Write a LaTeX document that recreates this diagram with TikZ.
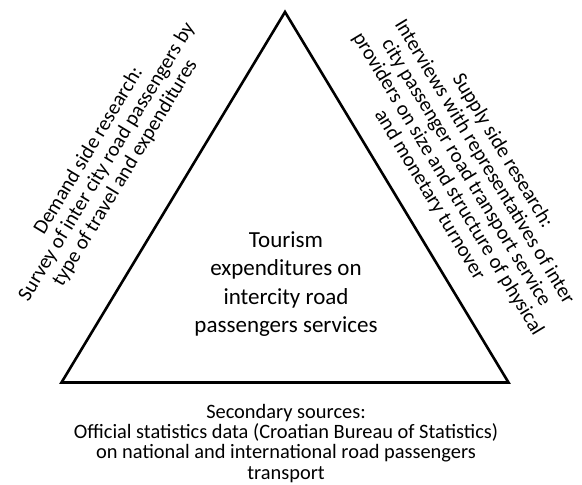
\documentclass[tikz,border=0pt]{standalone}
\usepackage{fontspec}
\setmainfont{Carlito}
\begin{document}
\begin{tikzpicture}[x=1bp,y=-1bp,
  edge/.style={draw=black, line width=2.6bp, line join=miter},
  lbl/.style={align=center, inner sep=0pt, text=black},
  sidefont/.style={font=\fontsize{20.6bp}{21.3bp}\selectfont}]
\useasboundingbox (0,0) rectangle (582,485);
\coordinate (apex) at (285,12);
\coordinate (bl) at (61.5,382.5);
\coordinate (br) at (508.5,382.5);
\draw[edge] (apex) -- (br) -- (bl) -- cycle;
\node[lbl, font=\fontsize{23bp}{28.2bp}\selectfont] (centre) at (286,284)
  {Tourism\\expenditures on\\intercity road\\passengers services};
\node[lbl, font=\fontsize{20.4bp}{20.2bp}\selectfont, anchor=base] (bottom) at (286,479)
  {Secondary sources:\\Official statistics data (Croatian Bureau of Statistics)\\on national and international road passengers\\transport};
\node[lbl, sidefont, rotate=58.8] (demand) at (107,162)
  {Demand side research:\\Survey of inter city road passengers by\\type of travel and expenditures};
\node[lbl, sidefont, rotate=-58.8] (supply) at (466,173)
  {Supply side research:\\Interviews with representatives of inter\\city passenger road transport service\\providers on size and structure of physical\\and monetary turnover};
\end{tikzpicture}
\end{document}
